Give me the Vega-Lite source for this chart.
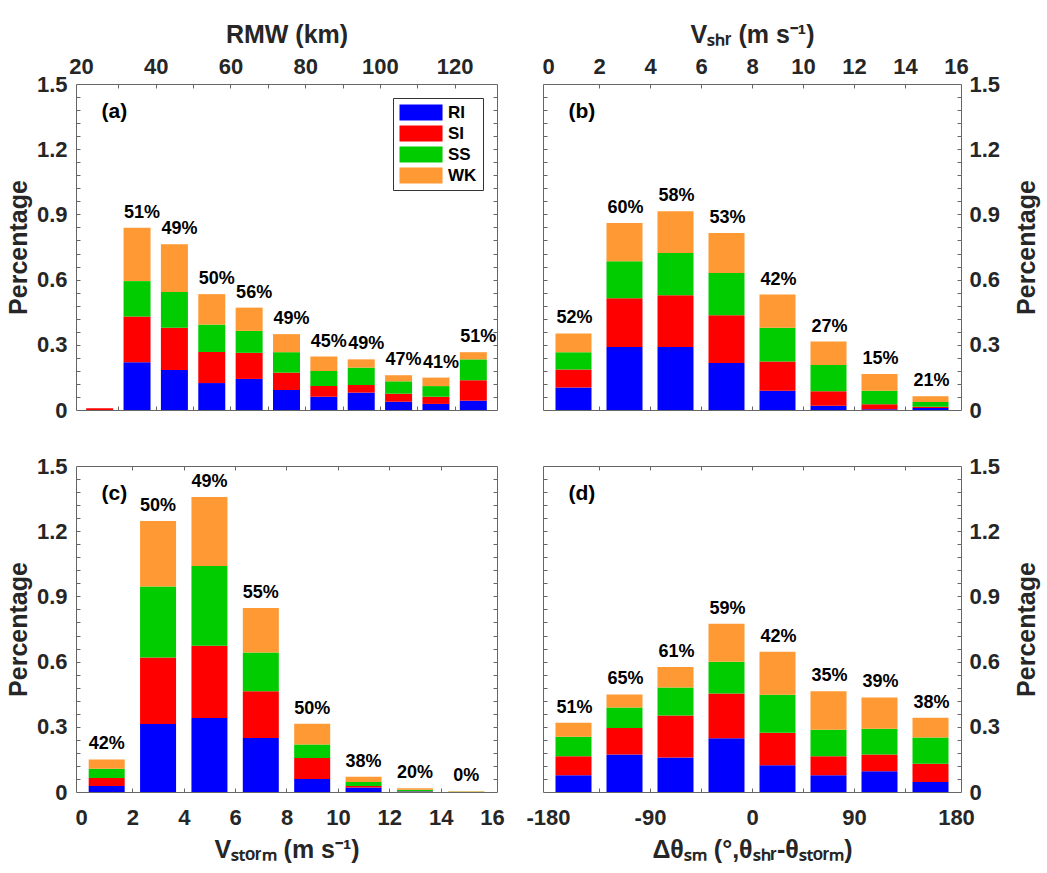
{
  "$schema": "https://vega.github.io/schema/vega-lite/v6.json",
  "background": "white",
  "padding": {"left": 5, "top": 21, "right": 5, "bottom": 5},
  "datasets": {
    "a": [
      {"x": 25, "RI": 0, "SI": 0.008, "SS": 0, "WK": 0, "label": ""},
      {"x": 35, "RI": 0.220, "SI": 0.210, "SS": 0.163, "WK": 0.245, "label": "51%"},
      {"x": 45, "RI": 0.184, "SI": 0.194, "SS": 0.165, "WK": 0.220, "label": "49%"},
      {"x": 55, "RI": 0.124, "SI": 0.143, "SS": 0.126, "WK": 0.140, "label": "50%"},
      {"x": 65, "RI": 0.143, "SI": 0.120, "SS": 0.101, "WK": 0.107, "label": "56%"},
      {"x": 75, "RI": 0.092, "SI": 0.080, "SS": 0.094, "WK": 0.083, "label": "49%"},
      {"x": 85, "RI": 0.061, "SI": 0.050, "SS": 0.069, "WK": 0.066, "label": "45%"},
      {"x": 95, "RI": 0.080, "SI": 0.035, "SS": 0.080, "WK": 0.038, "label": "49%"},
      {"x": 105, "RI": 0.038, "SI": 0.037, "SS": 0.057, "WK": 0.028, "label": "47%"},
      {"x": 115, "RI": 0.028, "SI": 0.033, "SS": 0.049, "WK": 0.039, "label": "41%"},
      {"x": 125, "RI": 0.043, "SI": 0.094, "SS": 0.096, "WK": 0.033, "label": "51%"}
    ],
    "b": [
      {"x": 1, "RI": 0.103, "SI": 0.083, "SS": 0.080, "WK": 0.086, "label": "52%"},
      {"x": 3, "RI": 0.290, "SI": 0.224, "SS": 0.171, "WK": 0.175, "label": "60%"},
      {"x": 5, "RI": 0.290, "SI": 0.238, "SS": 0.194, "WK": 0.193, "label": "58%"},
      {"x": 7, "RI": 0.216, "SI": 0.220, "SS": 0.194, "WK": 0.184, "label": "53%"},
      {"x": 9, "RI": 0.089, "SI": 0.134, "SS": 0.156, "WK": 0.152, "label": "42%"},
      {"x": 11, "RI": 0.020, "SI": 0.066, "SS": 0.121, "WK": 0.108, "label": "27%"},
      {"x": 13, "RI": 0.003, "SI": 0.023, "SS": 0.063, "WK": 0.077, "label": "15%"},
      {"x": 15, "RI": 0.009, "SI": 0.006, "SS": 0.022, "WK": 0.026, "label": "21%"}
    ],
    "c": [
      {"x": 1, "RI": 0.028, "SI": 0.036, "SS": 0.043, "WK": 0.043, "label": "42%"},
      {"x": 3, "RI": 0.313, "SI": 0.306, "SS": 0.326, "WK": 0.302, "label": "50%"},
      {"x": 5, "RI": 0.340, "SI": 0.333, "SS": 0.367, "WK": 0.317, "label": "49%"},
      {"x": 7, "RI": 0.248, "SI": 0.216, "SS": 0.178, "WK": 0.205, "label": "55%"},
      {"x": 9, "RI": 0.060, "SI": 0.096, "SS": 0.063, "WK": 0.095, "label": "50%"},
      {"x": 11, "RI": 0.021, "SI": 0.007, "SS": 0.018, "WK": 0.024, "label": "38%"},
      {"x": 13, "RI": 0.002, "SI": 0.002, "SS": 0.006, "WK": 0.007, "label": "20%"},
      {"x": 15, "RI": 0, "SI": 0, "SS": 0.0015, "WK": 0.0015, "label": "0%"}
    ],
    "d": [
      {"x": -157.5, "RI": 0.077, "SI": 0.087, "SS": 0.090, "WK": 0.065, "label": "51%"},
      {"x": -112.5, "RI": 0.173, "SI": 0.121, "SS": 0.095, "WK": 0.060, "label": "65%"},
      {"x": -67.5, "RI": 0.159, "SI": 0.193, "SS": 0.129, "WK": 0.094, "label": "61%"},
      {"x": -22.5, "RI": 0.247, "SI": 0.206, "SS": 0.146, "WK": 0.175, "label": "59%"},
      {"x": 22.5, "RI": 0.123, "SI": 0.150, "SS": 0.174, "WK": 0.198, "label": "42%"},
      {"x": 67.5, "RI": 0.077, "SI": 0.087, "SS": 0.122, "WK": 0.177, "label": "35%"},
      {"x": 112.5, "RI": 0.095, "SI": 0.078, "SS": 0.118, "WK": 0.144, "label": "39%"},
      {"x": 157.5, "RI": 0.046, "SI": 0.084, "SS": 0.121, "WK": 0.091, "label": "38%"}
    ]
  },
  "columns": 2,
  "spacing": {"row": 56, "column": 46},
  "bounds": "flush",
  "resolve": {"scale": {"color": "independent"}, "legend": {"color": "independent"}},
  "concat": [
    {
      "width": 421, "height": 326,
      "data": {"name": "a"},
      "layer": [
        {
          "transform": [{"fold": ["RI", "SI", "SS", "WK"], "as": ["cat", "value"]}],
          "mark": {"type": "bar", "width": 27},
          "encoding": {
            "x": {"field": "x", "type": "quantitative", "scale": {"domain": [20, 130], "nice": false, "zero": false},
              "axis": {"orient": "top", "values": [20, 40, 60, 80, 100, 120], "title": "RMW (km)", "ticks": false, "labelFlush": false}},
            "y": {"field": "value", "type": "quantitative", "stack": "zero", "scale": {"domain": [0, 1.5], "nice": false},
              "axis": {"orient": "left", "values": [0, 0.3, 0.6, 0.9, 1.2, 1.5], "title": "Percentage", "ticks": false, "format": ".1~f"}},
            "color": {"field": "cat", "type": "nominal",
              "scale": {"domain": ["RI", "SI", "SS", "WK"], "range": ["#0000ff", "#ff0000", "#00cc00", "#ff9933"]},
              "legend": {"orient": "top-right", "offset": 14, "title": null, "strokeColor": "#333333", "fillColor": "white", "padding": 6,
                "symbolType": "M-1,-1H4.38V1H-1Z", "symbolSize": 256, "symbolStrokeWidth": 0, "symbolOpacity": 1,
                "labelFontSize": 17, "labelFontWeight": "bold", "labelColor": "#000000", "labelOffset": 32, "rowPadding": 3, "labelFont": "Liberation Sans"}},
            "order": {"field": "cat", "type": "nominal", "sort": "ascending"}
          }
        },
        {
          "transform": [{"calculate": "datum.RI+datum.SI+datum.SS+datum.WK", "as": "total"}],
          "mark": {"type": "text", "baseline": "alphabetic", "dy": -10, "dx": 5, "fontSize": 18, "fontWeight": "bold", "font": "Liberation Sans", "color": "#000000"},
          "encoding": {
            "x": {"field": "x", "type": "quantitative", "axis": {"orient": "bottom", "values": [30, 40, 50, 60, 70, 80, 90, 100, 110, 120], "labels": false, "title": null, "tickSize": -4}},
            "y": {"field": "total", "type": "quantitative", "axis": {"orient": "right", "values": [0.06, 0.12, 0.18, 0.24, 0.3, 0.36, 0.42, 0.48, 0.54, 0.6, 0.66, 0.72, 0.78, 0.84, 0.9, 0.96, 1.02, 1.08, 1.14, 1.2, 1.26, 1.32, 1.38, 1.44], "labels": false, "title": null, "tickSize": -4}},
            "text": {"field": "label"}
          }
        },
        {
          "data": {"values": [{}]},
          "mark": {"type": "text", "text": "(a)", "align": "left", "baseline": "alphabetic", "fontSize": 21, "fontWeight": "bold", "font": "Liberation Sans", "color": "#000000"},
          "encoding": {
            "x": {"datum": 25.5, "type": "quantitative", "axis": {"orient": "top", "values": [30, 40, 50, 60, 70, 80, 90, 100, 110, 120], "labels": false, "title": null, "tickSize": -4}},
            "y": {"datum": 1.343, "type": "quantitative", "axis": {"orient": "left", "values": [0.06, 0.12, 0.18, 0.24, 0.3, 0.36, 0.42, 0.48, 0.54, 0.6, 0.66, 0.72, 0.78, 0.84, 0.9, 0.96, 1.02, 1.08, 1.14, 1.2, 1.26, 1.32, 1.38, 1.44], "labels": false, "title": null, "tickSize": -4}}
          }
        }
      ],
      "resolve": {"axis": {"x": "independent", "y": "independent"}}
    },
    {
      "width": 418, "height": 326,
      "data": {"name": "b"},
      "layer": [
        {
          "transform": [{"fold": ["RI", "SI", "SS", "WK"], "as": ["cat", "value"]}],
          "mark": {"type": "bar", "width": 36},
          "encoding": {
            "x": {"field": "x", "type": "quantitative", "scale": {"domain": [0, 16], "nice": false, "zero": false},
              "axis": {"orient": "top", "values": [0, 2, 4, 6, 8, 10, 12, 14, 16], "title": "Vₛₕᵣ (m s⁻¹)", "ticks": false, "labelFlush": false}},
            "y": {"field": "value", "type": "quantitative", "stack": "zero", "scale": {"domain": [0, 1.5], "nice": false},
              "axis": {"orient": "right", "values": [0, 0.3, 0.6, 0.9, 1.2, 1.5], "title": "Percentage", "ticks": false, "format": ".1~f", "titleAngle": 270, "titleBaseline": "top"}},
            "color": {"field": "cat", "type": "nominal",
              "scale": {"domain": ["RI", "SI", "SS", "WK"], "range": ["#0000ff", "#ff0000", "#00cc00", "#ff9933"]}, "legend": null},
            "order": {"field": "cat", "type": "nominal", "sort": "ascending"}
          }
        },
        {
          "transform": [{"calculate": "datum.RI+datum.SI+datum.SS+datum.WK", "as": "total"}],
          "mark": {"type": "text", "baseline": "alphabetic", "dy": -10, "dx": 1, "fontSize": 18, "fontWeight": "bold", "font": "Liberation Sans", "color": "#000000"},
          "encoding": {
            "x": {"field": "x", "type": "quantitative", "axis": {"orient": "bottom", "values": [2, 4, 6, 8, 10, 12, 14], "labels": false, "title": null, "tickSize": -4}},
            "y": {"field": "total", "type": "quantitative", "axis": {"orient": "left", "values": [0.06, 0.12, 0.18, 0.24, 0.3, 0.36, 0.42, 0.48, 0.54, 0.6, 0.66, 0.72, 0.78, 0.84, 0.9, 0.96, 1.02, 1.08, 1.14, 1.2, 1.26, 1.32, 1.38, 1.44], "labels": false, "title": null, "tickSize": -4}},
            "text": {"field": "label"}
          }
        },
        {
          "data": {"values": [{}]},
          "mark": {"type": "text", "text": "(b)", "align": "left", "baseline": "alphabetic", "fontSize": 21, "fontWeight": "bold", "font": "Liberation Sans", "color": "#000000"},
          "encoding": {
            "x": {"datum": 0.8, "type": "quantitative", "axis": {"orient": "top", "values": [2, 4, 6, 8, 10, 12, 14], "labels": false, "title": null, "tickSize": -4}},
            "y": {"datum": 1.343, "type": "quantitative", "axis": {"orient": "right", "values": [0.06, 0.12, 0.18, 0.24, 0.3, 0.36, 0.42, 0.48, 0.54, 0.6, 0.66, 0.72, 0.78, 0.84, 0.9, 0.96, 1.02, 1.08, 1.14, 1.2, 1.26, 1.32, 1.38, 1.44], "labels": false, "title": null, "tickSize": -4}}
          }
        }
      ],
      "resolve": {"axis": {"x": "independent", "y": "independent"}}
    },
    {
      "width": 421, "height": 326,
      "data": {"name": "c"},
      "layer": [
        {
          "transform": [{"fold": ["RI", "SI", "SS", "WK"], "as": ["cat", "value"]}],
          "mark": {"type": "bar", "width": 36},
          "encoding": {
            "x": {"field": "x", "type": "quantitative", "scale": {"domain": [0, 16], "nice": false, "zero": false},
              "axis": {"orient": "bottom", "values": [0, 2, 4, 6, 8, 10, 12, 14, 16], "title": "Vₛₜₒᵣₘ (m s⁻¹)", "ticks": false, "labelFlush": false}},
            "y": {"field": "value", "type": "quantitative", "stack": "zero", "scale": {"domain": [0, 1.5], "nice": false},
              "axis": {"orient": "left", "values": [0, 0.3, 0.6, 0.9, 1.2, 1.5], "title": "Percentage", "ticks": false, "format": ".1~f"}},
            "color": {"field": "cat", "type": "nominal",
              "scale": {"domain": ["RI", "SI", "SS", "WK"], "range": ["#0000ff", "#ff0000", "#00cc00", "#ff9933"]}, "legend": null},
            "order": {"field": "cat", "type": "nominal", "sort": "ascending"}
          }
        },
        {
          "transform": [{"calculate": "datum.RI+datum.SI+datum.SS+datum.WK", "as": "total"}],
          "mark": {"type": "text", "baseline": "alphabetic", "dy": -10, "fontSize": 18, "fontWeight": "bold", "font": "Liberation Sans", "color": "#000000"},
          "encoding": {
            "x": {"field": "x", "type": "quantitative", "axis": {"orient": "top", "values": [2, 4, 6, 8, 10, 12, 14], "labels": false, "title": null, "tickSize": -4}},
            "y": {"field": "total", "type": "quantitative", "axis": {"orient": "right", "values": [0.06, 0.12, 0.18, 0.24, 0.3, 0.36, 0.42, 0.48, 0.54, 0.6, 0.66, 0.72, 0.78, 0.84, 0.9, 0.96, 1.02, 1.08, 1.14, 1.2, 1.26, 1.32, 1.38, 1.44], "labels": false, "title": null, "tickSize": -4}},
            "text": {"field": "label"}
          }
        },
        {
          "data": {"values": [{}]},
          "mark": {"type": "text", "text": "(c)", "align": "left", "baseline": "alphabetic", "fontSize": 21, "fontWeight": "bold", "font": "Liberation Sans", "color": "#000000"},
          "encoding": {
            "x": {"datum": 0.8, "type": "quantitative", "axis": {"orient": "bottom", "values": [2, 4, 6, 8, 10, 12, 14], "labels": false, "title": null, "tickSize": -4}},
            "y": {"datum": 1.343, "type": "quantitative", "axis": {"orient": "left", "values": [0.06, 0.12, 0.18, 0.24, 0.3, 0.36, 0.42, 0.48, 0.54, 0.6, 0.66, 0.72, 0.78, 0.84, 0.9, 0.96, 1.02, 1.08, 1.14, 1.2, 1.26, 1.32, 1.38, 1.44], "labels": false, "title": null, "tickSize": -4}}
          }
        }
      ],
      "resolve": {"axis": {"x": "independent", "y": "independent"}}
    },
    {
      "width": 418, "height": 326,
      "data": {"name": "d"},
      "layer": [
        {
          "transform": [{"fold": ["RI", "SI", "SS", "WK"], "as": ["cat", "value"]}],
          "mark": {"type": "bar", "width": 36},
          "encoding": {
            "x": {"field": "x", "type": "quantitative", "scale": {"domain": [-180, 180], "nice": false, "zero": false},
              "axis": {"orient": "bottom", "values": [-180, -90, 0, 90, 180], "labelExpr": "'' + datum.value", "title": "Δθₛₘ (°,θₛₕᵣ-θₛₜₒᵣₘ)", "ticks": false, "labelFlush": false}},
            "y": {"field": "value", "type": "quantitative", "stack": "zero", "scale": {"domain": [0, 1.5], "nice": false},
              "axis": {"orient": "right", "values": [0, 0.3, 0.6, 0.9, 1.2, 1.5], "title": "Percentage", "ticks": false, "format": ".1~f", "titleAngle": 270, "titleBaseline": "top"}},
            "color": {"field": "cat", "type": "nominal",
              "scale": {"domain": ["RI", "SI", "SS", "WK"], "range": ["#0000ff", "#ff0000", "#00cc00", "#ff9933"]}, "legend": null},
            "order": {"field": "cat", "type": "nominal", "sort": "ascending"}
          }
        },
        {
          "transform": [{"calculate": "datum.RI+datum.SI+datum.SS+datum.WK", "as": "total"}],
          "mark": {"type": "text", "baseline": "alphabetic", "dy": -10, "dx": 1, "fontSize": 18, "fontWeight": "bold", "font": "Liberation Sans", "color": "#000000"},
          "encoding": {
            "x": {"field": "x", "type": "quantitative", "axis": {"orient": "top", "values": [-135, -90, -45, 0, 45, 90, 135], "labels": false, "title": null, "tickSize": -4}},
            "y": {"field": "total", "type": "quantitative", "axis": {"orient": "left", "values": [0.06, 0.12, 0.18, 0.24, 0.3, 0.36, 0.42, 0.48, 0.54, 0.6, 0.66, 0.72, 0.78, 0.84, 0.9, 0.96, 1.02, 1.08, 1.14, 1.2, 1.26, 1.32, 1.38, 1.44], "labels": false, "title": null, "tickSize": -4}},
            "text": {"field": "label"}
          }
        },
        {
          "data": {"values": [{}]},
          "mark": {"type": "text", "text": "(d)", "align": "left", "baseline": "alphabetic", "fontSize": 21, "fontWeight": "bold", "font": "Liberation Sans", "color": "#000000"},
          "encoding": {
            "x": {"datum": -162, "type": "quantitative", "axis": {"orient": "bottom", "values": [-135, -90, -45, 0, 45, 90, 135], "labels": false, "title": null, "tickSize": -4}},
            "y": {"datum": 1.343, "type": "quantitative", "axis": {"orient": "right", "values": [0.06, 0.12, 0.18, 0.24, 0.3, 0.36, 0.42, 0.48, 0.54, 0.6, 0.66, 0.72, 0.78, 0.84, 0.9, 0.96, 1.02, 1.08, 1.14, 1.2, 1.26, 1.32, 1.38, 1.44], "labels": false, "title": null, "tickSize": -4}}
          }
        }
      ],
      "resolve": {"axis": {"x": "independent", "y": "independent"}}
    }
  ],
  "config": {
    "font": "Liberation Sans",
    "view": {"stroke": "#666666", "strokeWidth": 1},
    "axis": {
      "domain": false, "grid": false,
      "labelFont": "Liberation Sans", "labelFontSize": 22, "labelFontWeight": "bold", "labelColor": "#262626",
      "titleFont": "Liberation Sans", "titleFontSize": 25, "titleFontWeight": "bold", "titleColor": "#262626",
      "tickColor": "#666666", "tickWidth": 1
    },
    "axisTop": {"labelPadding": 6, "titlePadding": 8},
    "axisBottom": {"labelPadding": 15, "titlePadding": 9},
    "axisLeft": {"labelPadding": 9, "titlePadding": 5},
    "axisRight": {"labelPadding": 8, "titlePadding": 15}
  }
}
